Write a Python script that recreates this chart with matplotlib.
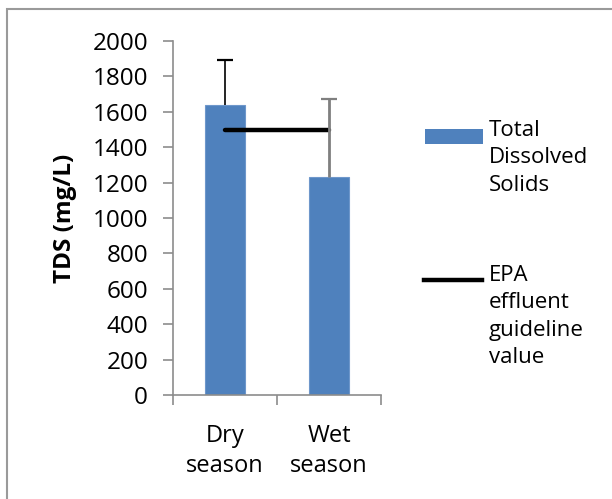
import matplotlib.pyplot as plt
from matplotlib.patches import Rectangle
from matplotlib.lines import Line2D

plt.rcParams['font.family'] = ['Open Sans', 'DejaVu Sans']

seasons = ['Dry\nseason', 'Wet\nseason']
tds_mean = [1640, 1233]
tds_err = [252, 442]
epa_limit = [1500, 1500]
y_ticks = [0, 200, 400, 600, 800, 1000, 1200, 1400, 1600, 1800, 2000]

W, H = 612, 499
fig = plt.figure(figsize=(W / 100, H / 100), dpi=100)
ax = fig.add_axes([173 / W, 1 - 395 / H, 208 / W, 354 / H])

x = list(range(len(seasons)))
ax.bar(x, tds_mean, width=0.39, color='#4F81BD', edgecolor='#6E97CB', linewidth=0.8, zorder=2)
ax.plot(x, epa_limit, color='black', linewidth=3.2, solid_capstyle='round', zorder=3)

# plus-only error bars, the dry one black, the wet one grey
err_colors = ['black', '#7F7F7F']
err_widths = [1.2, 2.0]
for xi, m, e, c, lw in zip(x, tds_mean, tds_err, err_colors, err_widths):
    _, caps, _ = ax.errorbar([xi], [m], yerr=[[0], [e]], fmt='none', ecolor=c,
                             elinewidth=lw, capsize=5.5, capthick=1.6, zorder=4)
    caps[0].set_visible(False)

ax.set_xlim(-0.5, 1.5)
ax.set_ylim(0, 2000)
ax.set_yticks(y_ticks)
ax.set_xticks(x)
ax.set_xticklabels(seasons, fontsize=17, linespacing=1.3)
ax.set_xticks([-0.5, 0.5, 1.5], minor=True)

for s in ['top', 'right']:
    ax.spines[s].set_visible(False)
for s in ['left', 'bottom']:
    ax.spines[s].set_color('#8C8C8C')
    ax.spines[s].set_linewidth(1.2)

ax.tick_params(axis='y', length=7, width=1.2, color='#8C8C8C', labelsize=17.5, pad=11)
ax.tick_params(axis='x', which='major', length=0, pad=21)
ax.tick_params(axis='x', which='minor', length=7, width=1.2, color='#8C8C8C')

ax.set_ylabel('TDS (mg/L)', fontsize=17.5, fontweight='bold')
ax.yaxis.set_label_coords(-0.46, 0.5)

# legend drawn by hand so the keys sit beside the first line of text
fig.add_artist(Rectangle((425 / W, 1 - 144 / H), 58 / W, 15 / H,
                         transform=fig.transFigure, facecolor='#4F81BD', edgecolor='none'))
fig.add_artist(Line2D([424 / W, 482 / W], [1 - 280 / H, 1 - 280 / H],
                      transform=fig.transFigure, color='black', linewidth=3.2))
fig.text(489 / W, 1 - 120 / H, 'Total\nDissolved\nSolids', fontsize=16,
         va='top', ha='left', linespacing=1.4)
fig.text(489 / W, 1 - 265 / H, 'EPA\neffluent\nguideline\nvalue', fontsize=16,
         va='top', ha='left', linespacing=1.4)

# chart frame, cropped at right and bottom
fig.add_artist(Rectangle((7 / W, -0.05), 1.1, 1 - 9 / H + 0.05,
                         transform=fig.transFigure, facecolor='none',
                         edgecolor='#9A9A9A', linewidth=1.5))

fig.savefig('out.png', dpi=100)
